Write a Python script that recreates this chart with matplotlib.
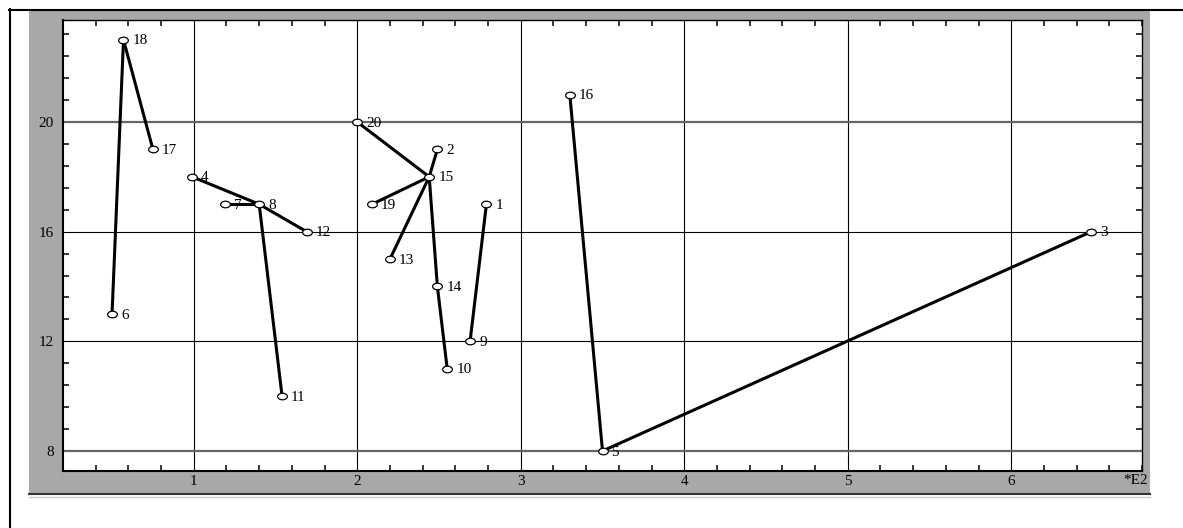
import numpy as np
import matplotlib
matplotlib.use("Agg")
import matplotlib.pyplot as plt
from matplotlib.path import Path
from matplotlib.patches import Rectangle
from matplotlib.lines import Line2D
from matplotlib.ticker import MultipleLocator

# point labels and coordinates (x in units of E2)
labels = ["1", "2", "3", "4", "5", "6", "7", "8", "9", "10",
          "11", "12", "13", "14", "15", "16", "17", "18", "19", "20"]
xs = [2.79, 2.49, 6.49, 0.99, 3.50, 0.50, 1.19, 1.40, 2.69, 2.55,
      1.54, 1.69, 2.20, 2.49, 2.44, 3.30, 0.75, 0.57, 2.09, 2.00]
ys = [17, 19, 16, 18, 8, 13, 17, 17, 12, 11,
      10, 16, 15, 14, 18, 21, 19, 23, 17, 20]

# links between points (by label)
edges = [("6", "18"), ("18", "17"), ("4", "8"), ("7", "8"), ("8", "12"),
         ("8", "11"), ("20", "15"), ("2", "15"), ("19", "15"), ("13", "15"),
         ("15", "14"), ("14", "10"), ("9", "1"), ("16", "5"), ("5", "3")]

xticks = [1, 2, 3, 4, 5, 6]
yticks = [8, 12, 16, 20]

plt.rcParams['font.family'] = ['Liberation Serif', 'DejaVu Serif']

W, H = 1183, 528
fig = plt.figure(figsize=(W / 100, H / 100), dpi=100)
fig.patch.set_facecolor("white")

# gray panel behind the plot
panel = Rectangle((29 / W, 1 - 493 / H), (1150 - 29) / W, (493 - 10) / H,
                  transform=fig.transFigure, facecolor="#a8a8a8",
                  edgecolor="none")
panel.set_zorder(-5)
fig.add_artist(panel)
# frame lines
fig.add_artist(Line2D([9 / W, 1.0], [1 - 9.5 / H, 1 - 9.5 / H], transform=fig.transFigure,
                      color="black", lw=1.5))
fig.add_artist(Line2D([9.5 / W, 9.5 / W], [1 - 9 / H, 0.0], transform=fig.transFigure,
                      color="black", lw=1.5))
fig.add_artist(Line2D([29 / W, 1150 / W], [1 - 493.5 / H, 1 - 493.5 / H],
                      transform=fig.transFigure, color="#333333", lw=1.5))
fig.add_artist(Line2D([29 / W, 1150 / W], [1 - 496.5 / H, 1 - 496.5 / H],
                      transform=fig.transFigure, color="#c8c8c8", lw=1.0))

ax = fig.add_axes([63 / W, 1 - 471 / H, (1142 - 63) / W, (471 - 20) / H])
ax.set_zorder(2)
ax.set_facecolor("white")
ax.set_xlim(0.2, 6.8)
ax.set_ylim(7.27, 23.72)

ax.xaxis.set_major_locator(MultipleLocator(1))
ax.xaxis.set_minor_locator(MultipleLocator(0.2))
ax.yaxis.set_major_locator(MultipleLocator(4))
ax.yaxis.set_minor_locator(MultipleLocator(0.8))
ax.set_xticks(xticks)
ax.set_yticks(yticks)

ax.tick_params(which="both", direction="in", top=True, right=True,
               color="black", labelsize=11)
ax.tick_params(which="minor", length=4, width=1.1)
ax.tick_params(which="major", length=0)
ax.tick_params(axis="y", pad=6.5)
ax.tick_params(axis="x", pad=3.0)

for s in ax.spines.values():
    s.set_color("black")
    s.set_linewidth(1.0)
ax.spines["left"].set_linewidth(1.5)
ax.spines["bottom"].set_linewidth(1.5)

ax.grid(True, which="major", color="black", linewidth=0.8)
for val, gl in zip(yticks, ax.yaxis.get_gridlines()):
    if val in (8, 20):
        gl.set_color("#666666")
        gl.set_linewidth(1.6)
ax.set_axisbelow(True)

# links
idx = {lab: i for i, lab in enumerate(labels)}
for a, b in edges:
    ax.plot([xs[idx[a]], xs[idx[b]]], [ys[idx[a]], ys[idx[b]]],
            color="black", lw=2.2, solid_capstyle="round", zorder=3)

# elliptic open markers
circ = Path.unit_circle()
ell = Path(circ.vertices * np.array([1.0, 0.68]), circ.codes)
ax.plot(xs, ys, linestyle="none", marker=ell, markersize=7,
        markerfacecolor="white", markeredgecolor="black", markeredgewidth=0.9, zorder=4)

for x, y, lab in zip(xs, ys, labels):
    ax.annotate(lab, (x, y), xytext=(6.5, -0.8), textcoords="offset points",
                ha="left", va="center", fontsize=11, zorder=5)

fig.text(1148 / W, 1 - 481 / H, "*E2", ha="right", va="center", fontsize=11)

fig.savefig("out.png", dpi=100)
